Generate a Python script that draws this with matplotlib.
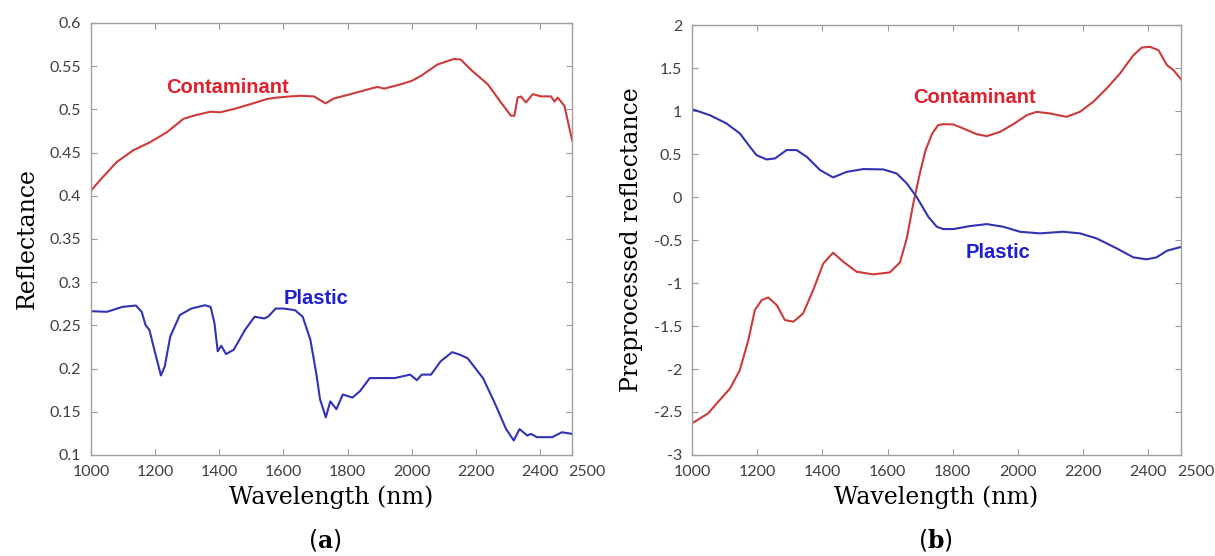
import numpy as np
import matplotlib
matplotlib.use('Agg')
import matplotlib.pyplot as plt

serif = 'DejaVu Serif'
plt.rcParams['mathtext.fontset'] = 'custom'
plt.rcParams['mathtext.rm'] = serif
plt.rcParams['mathtext.bf'] = serif + ':bold'

# (a) raw reflectance
wl_con_a = [1000, 1028, 1080, 1132, 1184, 1237, 1288, 1320, 1372, 1403, 1445, 1497, 1549, 1580,
            1622, 1653, 1695, 1731, 1757, 1809, 1862, 1893, 1914, 1966, 2000, 2028, 2080, 2132,
            2153, 2184, 2237, 2278, 2309, 2320, 2330, 2340, 2356, 2377, 2403, 2434, 2445, 2455,
            2476, 2500]
ref_con_a = [0.406, 0.418, 0.439, 0.4527, 0.462, 0.4736, 0.489, 0.4927, 0.4973, 0.4966, 0.5004,
             0.506, 0.512, 0.5137, 0.515, 0.5157, 0.515, 0.507, 0.5126, 0.5176, 0.523, 0.526,
             0.524, 0.529, 0.533, 0.5386, 0.5519, 0.5584, 0.5576, 0.546, 0.529, 0.508, 0.4927,
             0.4927, 0.5137, 0.5149, 0.508, 0.5176, 0.515, 0.515, 0.509, 0.5137, 0.504, 0.464]

wl_pla_a = [1000, 1050, 1098, 1140, 1158, 1170, 1182, 1200, 1218, 1230, 1247, 1277, 1313, 1355,
            1373, 1385, 1395, 1406, 1421, 1445, 1480, 1510, 1540, 1552, 1576, 1600, 1636, 1660,
            1684, 1702, 1714, 1732, 1746, 1765, 1785, 1815, 1839, 1869, 1911, 1947, 1995, 2016,
            2031, 2060, 2090, 2126, 2150, 2174, 2222, 2258, 2294, 2318, 2336, 2360, 2372, 2390,
            2438, 2468, 2500]
ref_pla_a = [0.2664, 0.2657, 0.2714, 0.273, 0.2657, 0.2504, 0.2447, 0.218, 0.192, 0.2027, 0.237,
             0.262, 0.2695, 0.2733, 0.2714, 0.2523, 0.22, 0.2264, 0.2168, 0.2218, 0.2447, 0.26,
             0.258, 0.26, 0.2695, 0.2695, 0.2676, 0.26, 0.2332, 0.195, 0.1645, 0.1435, 0.162,
             0.153, 0.170, 0.1664, 0.174, 0.189, 0.189, 0.189, 0.193, 0.1866, 0.193, 0.193,
             0.2084, 0.219, 0.216, 0.212, 0.189, 0.1607, 0.13, 0.1168, 0.13, 0.1225, 0.1244,
             0.1206, 0.1206, 0.1263, 0.1244]

# (b) preprocessed reflectance
wl_con_b = [1000, 1009, 1050, 1076, 1117, 1147, 1173, 1193, 1214, 1234, 1260, 1285, 1311, 1341,
            1372, 1403, 1433, 1464, 1505, 1556, 1607, 1638, 1659, 1679, 1699, 1717, 1737, 1755,
            1771, 1802, 1832, 1873, 1904, 1945, 1986, 2027, 2057, 2098, 2149, 2190, 2231, 2272,
            2313, 2354, 2380, 2405, 2431, 2457, 2477, 2500]
ref_con_b = [-2.63, -2.612, -2.515, -2.4, -2.225, -2.012, -1.663, -1.314, -1.198, -1.167, -1.256,
             -1.43, -1.45, -1.353, -1.081, -0.771, -0.647, -0.752, -0.868, -0.899, -0.876,
             -0.76, -0.48, -0.073, 0.276, 0.55, 0.74, 0.837, 0.849, 0.845, 0.799, 0.733, 0.709,
             0.759, 0.849, 0.953, 0.992, 0.973, 0.934, 0.992, 1.109, 1.264, 1.438, 1.651, 1.74,
             1.748, 1.709, 1.535, 1.477, 1.37]

wl_pla_b = [1000, 1009, 1055, 1106, 1147, 1178, 1198, 1229, 1255, 1290, 1321, 1352, 1393, 1433,
            1475, 1526, 1587, 1628, 1659, 1689, 1725, 1751, 1771, 1802, 1853, 1904, 1955, 2006,
            2067, 2139, 2190, 2241, 2303, 2354, 2395, 2425, 2457, 2500]
ref_pla_b = [1.02, 1.012, 0.953, 0.857, 0.74, 0.585, 0.488, 0.438, 0.45, 0.547, 0.547, 0.469,
             0.314, 0.229, 0.294, 0.326, 0.322, 0.275, 0.159, 0.003, -0.229, -0.345, -0.372,
             -0.372, -0.337, -0.314, -0.345, -0.403, -0.422, -0.403, -0.422, -0.48, -0.597,
             -0.701, -0.724, -0.701, -0.624, -0.58]

xticks = [1000, 1200, 1400, 1600, 1800, 2000, 2200, 2400, 2500]
yticks_a = [0.1, 0.15, 0.2, 0.25, 0.3, 0.35, 0.4, 0.45, 0.5, 0.55, 0.6]
ylabels_a = ['0.1', '0.15', '0.2', '0.25', '0.3', '0.35', '0.4', '0.45', '0.5', '0.55', '0.6']
yticks_b = [-3, -2.5, -2, -1.5, -1, -0.5, 0, 0.5, 1, 1.5, 2]
ylabels_b = ['-3', '-2.5', '-2', '-1.5', '-1', '-0.5', '0', '0.5', '1', '1.5', '2']

red_line = '#cc3a3a'
blue_line = '#3232b4'
red_txt = '#e0202a'
blue_txt = '#1e1ed2'
tick_font = 'Lato'
tick_size = 11.5

fig = plt.figure(figsize=(12.15, 5.56), dpi=100)
ax1 = fig.add_axes([0.0749, 0.1817, 0.396, 0.777])
ax2 = fig.add_axes([0.5695, 0.1817, 0.4025, 0.773])


def style(ax, yticks, ylabels):
    ax.set_xlim(1000, 2500)
    ax.set_ylim(yticks[0], yticks[-1])
    ax.set_xticks(xticks)
    # 2500 is written separately, just right of the box corner
    labels = [str(t) for t in xticks[:-1]] + ['']
    ax.set_xticklabels(labels, fontfamily=tick_font, fontsize=tick_size, color='#404040')
    ax.annotate(str(xticks[-1]), xy=(xticks[-1], 0), xycoords=('data', 'axes fraction'),
                xytext=(-3, -7), textcoords='offset points', ha='left', va='top',
                fontfamily=tick_font, fontsize=tick_size, color='#404040')
    ax.set_yticks(yticks)
    ax.set_yticklabels(ylabels, fontfamily=tick_font, fontsize=tick_size, color='#404040')
    ax.tick_params(direction='in', length=4, width=0.8, color='#999999',
                   top=True, right=True, pad=7)
    for s in ax.spines.values():
        s.set_color('#a0a0a0')
        s.set_linewidth(1.0)
    ax.set_xlabel('Wavelength (nm)', fontfamily=serif, fontsize=17, labelpad=5)


ax1.plot(wl_con_a, ref_con_a, color=red_line, lw=1.5)
ax1.plot(wl_pla_a, ref_pla_a, color=blue_line, lw=1.5)
style(ax1, yticks_a, ylabels_a)
ax1.set_ylabel('Reflectance', fontfamily=serif, fontsize=17, labelpad=8)
ax1.text(1425, 0.525, 'Contaminant', color=red_txt, fontweight='bold',
         fontfamily='Liberation Sans', fontsize=14.5, ha='center', va='center')
ax1.text(1703, 0.281, 'Plastic', color=blue_txt, fontweight='bold',
         fontfamily='Liberation Sans', fontsize=14.5, ha='center', va='center')

ax2.plot(wl_con_b, ref_con_b, color=red_line, lw=1.5)
ax2.plot(wl_pla_b, ref_pla_b, color=blue_line, lw=1.5)
style(ax2, yticks_b, ylabels_b)
ax2.set_ylabel('Preprocessed reflectance', fontfamily=serif, fontsize=17, labelpad=8)
ax2.text(1865, 1.163, 'Contaminant', color=red_txt, fontweight='bold',
         fontfamily='Liberation Sans', fontsize=14.5, ha='center', va='center')
ax2.text(1938, -0.64, 'Plastic', color=blue_txt, fontweight='bold',
         fontfamily='Liberation Sans', fontsize=14.5, ha='center', va='center')

fig.text(325 / 1215, 1 - 540 / 556, r'($\mathbf{a}$)', fontsize=17, ha='center', va='center')
fig.text(935 / 1215, 1 - 540 / 556, r'($\mathbf{b}$)', fontsize=17, ha='center', va='center')

fig.savefig('out.png', dpi=100, facecolor='w')
